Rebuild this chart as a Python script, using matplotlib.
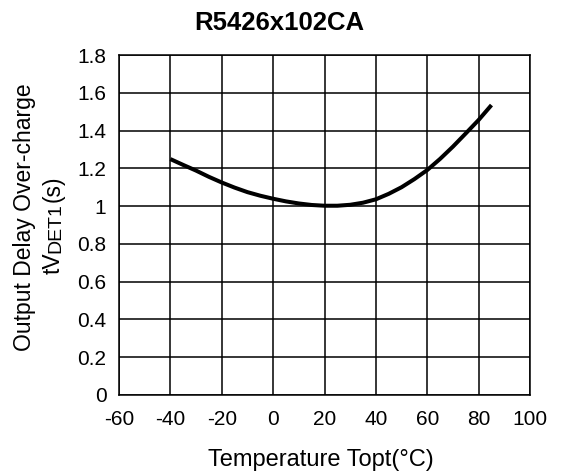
import matplotlib
matplotlib.use("Agg")
import matplotlib.pyplot as plt

plt.rcParams['font.family'] = ['Liberation Sans', 'DejaVu Sans']
plt.rcParams['axes.unicode_minus'] = False

title = "R5426x102CA"
temps = [-40, -35, -30, -25, -20, -15, -10, -5, 0, 5, 10, 15, 20, 25, 30, 35, 40,
         45, 50, 55, 60, 65, 70, 75, 80, 85]
delay = [1.249, 1.218, 1.188, 1.155, 1.125, 1.098, 1.074, 1.055, 1.039, 1.025,
         1.014, 1.006, 1.002, 1.002, 1.007, 1.018, 1.036, 1.065, 1.100, 1.143,
         1.191, 1.250, 1.315, 1.385, 1.456, 1.535]
xticks = [-60, -40, -20, 0, 20, 40, 60, 80, 100]
yticks = [0, 0.2, 0.4, 0.6, 0.8, 1.0, 1.2, 1.4, 1.6, 1.8]
ytick_labels = ["0", "0.2", "0.4", "0.6", "0.8", "1", "1.2", "1.4", "1.6", "1.8"]

W, H = 562, 471
fig = plt.figure(figsize=(W/100, H/100), dpi=100)
ax = fig.add_axes([119/W, 1 - 395/H, (530-119)/W, (395-55)/H])

ax.plot(temps, delay, color='black', linewidth=2.9, solid_capstyle='butt')
ax.set_xlim(-60, 100)
ax.set_ylim(0, 1.8)
ax.set_xticks(xticks)
ax.set_yticks(yticks)
ax.set_yticklabels(ytick_labels)
ax.grid(True, color='black', linewidth=1.1)
ax.set_axisbelow(True)
for s in ax.spines.values():
    s.set_linewidth(1.1)
ax.tick_params(length=0, labelsize=15)
ax.tick_params(axis='x', pad=10.5)
ax.tick_params(axis='y', pad=9)

# x label
fig.text(321/W, 1 - 466/H, "Temperature Topt(°C)", fontsize=17,
         ha='center', va='baseline')

fig.text(279/W, 1 - 30/H, title, fontsize=18.5, fontweight='bold',
         ha='center', va='baseline')

# y label, two lines
fig.text(31.5/W, 1 - 217.5/H, "Output Delay Over-charge", fontsize=16.5,
         rotation=90, rotation_mode='anchor', ha='center', va='baseline')

# second line: tV + small "DET1" + (s), laid out piece by piece
renderer = fig.canvas.get_renderer()
parts = [("tV", 16.5, 0), ("DET1", 14, 1), ("(s)", 16.5, 0)]
texts = []
steps = []
for s, fs, track in parts:
    t = fig.text(0, 0, s, fontsize=fs, rotation=90, rotation_mode='anchor',
                 ha='left', va='baseline')
    texts.append(t)
    steps.append(t.get_window_extent(renderer).height + track)
ypos = H - 225 - sum(steps) / 2
for t, st in zip(texts, steps):
    t.set_position((60/W, ypos/H))
    ypos += st

fig.savefig("out.png", dpi=100)
